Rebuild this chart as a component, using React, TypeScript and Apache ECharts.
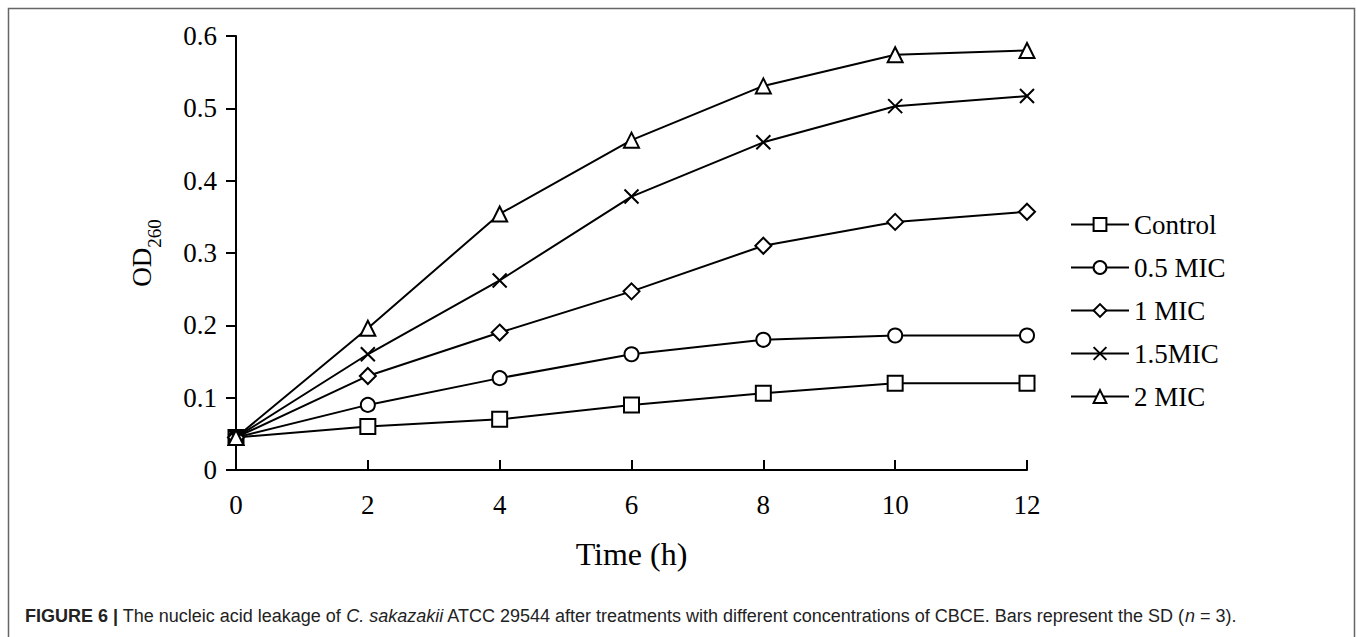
import React, { useEffect, useRef } from "react";
import * as echarts from "echarts";

const times = [0, 2, 4, 6, 8, 10, 12];
const seriesNames = ["Control", "0.5 MIC", "1 MIC", "1.5MIC", "2 MIC"];
const control = [0.045, 0.06, 0.07, 0.09, 0.106, 0.12, 0.12];
const mic05 = [0.045, 0.09, 0.127, 0.16, 0.18, 0.186, 0.186];
const mic1 = [0.045, 0.13, 0.19, 0.247, 0.31, 0.343, 0.357];
const mic15 = [0.045, 0.16, 0.262, 0.378, 0.453, 0.503, 0.517];
const mic2 = [0.045, 0.196, 0.354, 0.456, 0.531, 0.574, 0.58];
const seriesValues = [control, mic05, mic1, mic15, mic2];
const symbols = ["rect", "circle", "diamond", "path://M0,0L12,12M12,0L0,12", "triangle"];
const symbolSizes = [15, 14, 16, 14, 15];
const yTicks = { min: 0, max: 0.6, interval: 0.1 };
const xTicks = { min: 0, max: 12, interval: 2 };

const SERIF = "'Liberation Serif', 'Times New Roman', serif";
const SANS = "'Liberation Sans', Arial, sans-serif";

export default function App() {
  const ref = useRef<HTMLDivElement>(null);
  useEffect(() => {
    if (!ref.current) return;
    const chart = echarts.init(ref.current, undefined, { renderer: "svg" });
    const series = seriesNames.map((name, i) => ({
      name,
      type: "line",
      data: times.map((t, j) => [t, seriesValues[i][j]]),
      symbol: symbols[i],
      symbolSize: symbolSizes[i],
      showAllSymbol: true,
      lineStyle: { color: "#000", width: 2 },
      itemStyle: { color: "#fff", borderColor: "#000", borderWidth: 2 },
      emphasis: { disabled: true },
      z: 2 + i,
    }));
    chart.setOption({
      animation: false,
      backgroundColor: "#fff",
      grid: { left: 236, right: 330, top: 36, bottom: 167 },
      xAxis: {
        type: "value",
        min: xTicks.min,
        max: xTicks.max,
        interval: xTicks.interval,
        name: "Time (h)",
        nameLocation: "middle",
        nameGap: 68,
        nameTextStyle: { fontFamily: SERIF, fontSize: 32, color: "#000" },
        axisLine: { show: true, onZero: false, lineStyle: { color: "#000", width: 2 } },
        axisTick: { show: true, inside: true, length: 10, lineStyle: { color: "#000", width: 2 } },
        axisLabel: { fontFamily: SERIF, fontSize: 27, color: "#000", margin: 21 },
        splitLine: { show: false },
      },
      yAxis: {
        type: "value",
        min: yTicks.min,
        max: yTicks.max,
        interval: yTicks.interval,
        name: "{a|OD}{b|260}",
        nameLocation: "middle",
        nameGap: 72,
        nameTextStyle: {
          color: "#000",
          rich: {
            a: { fontFamily: SERIF, fontSize: 27, color: "#000", lineHeight: 36, verticalAlign: "top" },
            b: { fontFamily: SERIF, fontSize: 19, color: "#000", lineHeight: 36, verticalAlign: "bottom" },
          },
        },
        axisLine: { show: true, lineStyle: { color: "#000", width: 2 } },
        axisTick: { show: true, inside: false, length: 10, lineStyle: { color: "#000", width: 2 } },
        axisLabel: {
          fontFamily: SERIF,
          fontSize: 27,
          color: "#000",
          margin: 19,
          formatter: (v: number) => (v === 0 ? "0" : v.toFixed(1)),
        },
        splitLine: { show: false },
      },
      legend: {
        orient: "vertical",
        left: 1065,
        top: 206,
        itemWidth: 58,
        itemHeight: 16,
        itemGap: 16,
        selectedMode: false,
        textStyle: { fontFamily: SERIF, fontSize: 27, color: "#000", lineHeight: 27, padding: [0, 0, 0, 0] },
        data: seriesNames,
      },
      graphic: [
        {
          type: "rect",
          shape: { x: 8.5, y: 8.5, width: 1346, height: 660 },
          style: { fill: "none", stroke: "#666", lineWidth: 1.5 },
          silent: true,
        },
        {
          type: "text",
          x: 25,
          y: 616,
          style: {
            text:
              "{b|FIGURE 6 |} The nucleic acid leakage of {i|C. sakazakii} ATCC 29544 after treatments with different concentrations of CBCE. Bars represent the SD ({i|n} = 3).",
            fontFamily: SANS,
            fontSize: 18,
            fill: "#222",
            verticalAlign: "middle",
            rich: {
              b: { fontFamily: SANS, fontSize: 18, fontWeight: "bold", fill: "#222" },
              i: { fontFamily: SANS, fontSize: 18, fontStyle: "italic", fill: "#222" },
            },
          },
          silent: true,
        },
      ],
      series,
    });
    return () => chart.dispose();
  }, []);
  return (
    <div
      ref={ref}
      style={{ position: "absolute", left: 0, top: 0, width: 1357, height: 637 }}
    />
  );
}
